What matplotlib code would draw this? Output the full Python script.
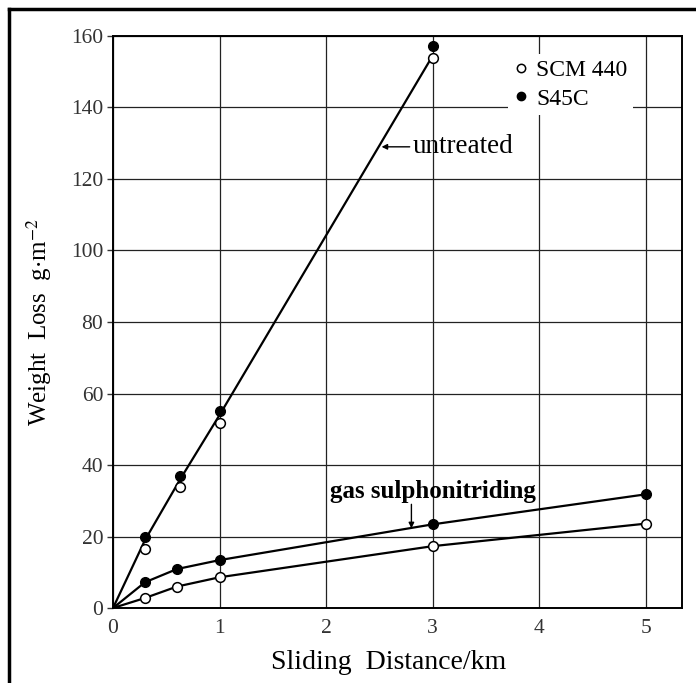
import matplotlib
matplotlib.use("Agg")
import matplotlib.pyplot as plt
from matplotlib.lines import Line2D

plt.rcParams['font.family'] = ['Liberation Serif', 'DejaVu Serif']
plt.rcParams['mathtext.fontset'] = 'stix'

# --- data -------------------------------------------------------------
dist_untreated = [0.3, 0.63, 1.0, 3.0]
scm_untreated = [16.5, 33.8, 51.8, 153.8]
s45_untreated = [19.8, 36.8, 55.0, 157.3]
untreated_fit_x = [0, 0.3, 0.63, 1.0, 3.0]
untreated_fit_y = [0, 19.0, 36.0, 54.0, 154.5]

dist_gas = [0, 0.3, 0.6, 1.0, 3.0, 5.0]
scm_gas = [0, 2.8, 6.0, 8.6, 17.3, 23.6]
s45_gas = [0, 7.2, 10.9, 13.4, 23.4, 31.8]

xticks = [0, 1, 2, 3, 4, 5]
yticks = [0, 20, 40, 60, 80, 100, 120, 140, 160]

fig = plt.figure(figsize=(6.96, 6.83), dpi=100)
ax = fig.add_axes([0.1624, 0.1098, 0.8176, 0.8375])

ax.set_xlim(0, 5.34)
ax.set_ylim(0, 160)
ax.set_xticks(xticks)
ax.set_yticks(yticks)
ax.grid(True, color='#222222', linewidth=0.9)
ax.set_axisbelow(True)
for s in ax.spines.values():
    s.set_linewidth(1.4)
ax.tick_params(axis='both', labelsize=15.5, direction='out', length=4, width=1, colors='#333333')
ax.tick_params(axis='x', length=0, pad=8)
ax.tick_params(axis='y', pad=3)

lw = 1.6
ms = 7
ax.plot(untreated_fit_x, untreated_fit_y, color='black', lw=lw, zorder=3)
ax.plot(dist_gas, scm_gas, color='black', lw=lw, zorder=3)
ax.plot(dist_gas, s45_gas, color='black', lw=lw, zorder=3)

ax.plot(dist_untreated, scm_untreated, 'o', ms=ms, mfc='white', mec='black', mew=1.1, zorder=4)
ax.plot(dist_untreated, s45_untreated, 'o', ms=ms, mfc='black', mec='black', zorder=4)
ax.plot(dist_gas[1:], scm_gas[1:], 'o', ms=ms, mfc='white', mec='black', mew=1.1, zorder=4)
ax.plot(dist_gas[1:], s45_gas[1:], 'o', ms=ms, mfc='black', mec='black', zorder=4)

ax.annotate('untreated', xy=(2.52, 129), xytext=(2.81, 129), fontsize=19.5,
            va='center', ha='left',
            arrowprops=dict(arrowstyle='-|>', color='black', lw=1, mutation_scale=8,
                            shrinkA=0, shrinkB=0))
ax.text(2.04, 32.5, 'gas sulphonitriding', fontsize=18, fontweight='bold',
        va='center', ha='left')
ax.annotate('', xy=(2.80, 22.3), xytext=(2.80, 29.0),
            arrowprops=dict(arrowstyle='-|>', color='black', lw=1, mutation_scale=8,
                            shrinkA=0, shrinkB=0))

handles = [Line2D([], [], ls='none', marker='o', ms=6, mfc='white', mec='black', mew=1.1),
           Line2D([], [], ls='none', marker='o', ms=6, mfc='black', mec='black')]
leg = ax.legend(handles, ['SCM 440', 'S45C'], loc='upper right',
                bbox_to_anchor=(0.935, 0.99), fontsize=17, frameon=True,
                handlelength=0.6, handletextpad=0.35, labelspacing=0.3,
                borderpad=0.25)
leg.get_frame().set_facecolor('white')
leg.get_frame().set_edgecolor('none')
leg.get_frame().set_alpha(1)

ax.set_xlabel('Sliding  Distance/km', fontsize=20)
ax.xaxis.set_label_coords(0.485, -0.074)
ax.set_ylabel('Weight  Loss  g$\\cdot$m$^{-2}$', fontsize=18)
ax.yaxis.set_label_coords(-0.104, 0.50)

# outer frame (left and top lines)
fig.add_artist(Line2D([0.013, 0.013], [0.0, 0.987], color='black', lw=2.5,
                      transform=fig.transFigure))
fig.add_artist(Line2D([0.013, 1.0], [0.987, 0.987], color='black', lw=2.5,
                      transform=fig.transFigure))

fig.savefig('out.png', dpi=100)
